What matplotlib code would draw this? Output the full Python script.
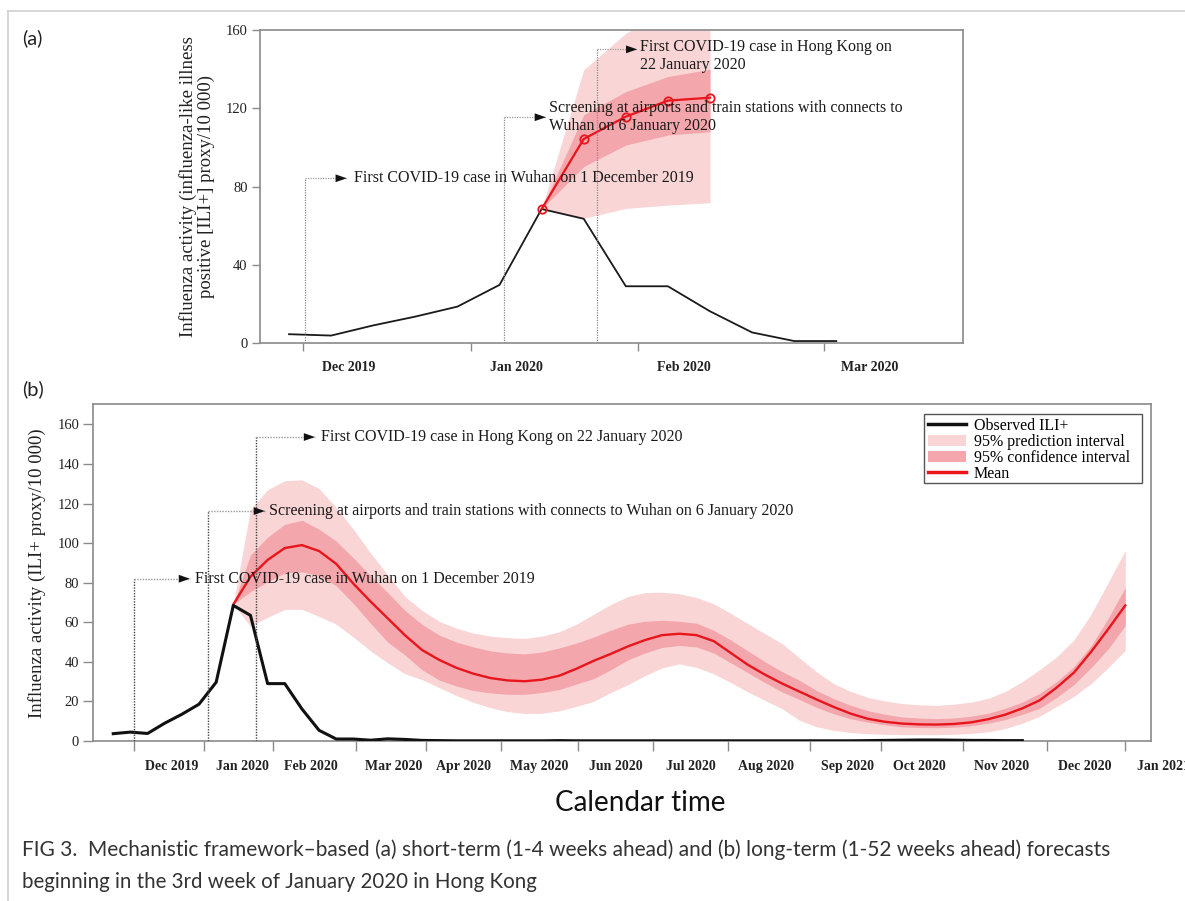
import matplotlib
matplotlib.use("Agg")
import matplotlib.pyplot as plt
import numpy as np
from matplotlib.lines import Line2D
from matplotlib.patches import Patch, Rectangle
from matplotlib.transforms import ScaledTranslation

SERIF = ["Liberation Serif", "DejaVu Serif"]
SANS = ["Lato", "DejaVu Sans"]

# ---------------- data (x = week index) ----------------
obs_weeks = list(range(0, 54))
observed = [3.7, 4.5, 3.8, 9.0, 13.5, 18.6, 29.7, 68.5, 63.5, 29.0,
            29.0, 16.2, 5.4, 1.0, 1.0, 0.4, 1.1, 0.8, 0.3, 0.2,
            0.1, 0.1, 0.1, 0.1, 0.1, 0.1, 0.2, 0.1, 0.1, 0.1,
            0.1, 0.1, 0.1, 0.1, 0.1, 0.1, 0.1, 0.1, 0.1, 0.1,
            0.1, 0.1, 0.1, 0.1, 0.2, 0.3, 0.4, 0.5, 0.5, 0.4,
            0.3, 0.3, 0.2, 0.2]

# panel (a): short-term forecast, weeks 7..11
short_weeks = [7, 8, 9, 10, 11]
short_mean = [68.5, 104.3, 115.7, 123.9, 125.4]
short_ci_lo = [68.5, 90.2, 101.2, 106.3, 108.0]
short_ci_hi = [68.5, 116.6, 128.5, 136.2, 139.9]
short_pi_lo = [68.5, 63.7, 68.8, 70.5, 71.7]
short_pi_hi = [68.5, 139.6, 158.3, 170.0, 175.0]

# panel (b): long-term forecast, weeks 7..59
long_weeks = list(range(7, 60))
long_mean = [69.0, 83.0, 91.5, 97.5, 99.0, 96.0, 89.5, 79.5, 70.5, 62.0,
             53.5, 46.0, 41.0, 37.0, 34.0, 31.8, 30.6, 30.2, 31.0, 33.0,
             36.5, 40.5, 44.0, 47.8, 51.0, 53.5, 54.2, 53.5, 50.5, 44.5,
             38.5, 33.5, 29.0, 25.0, 21.0, 17.2, 13.8, 11.2, 9.7, 8.8,
             8.4, 8.3, 8.6, 9.4, 11.0, 13.3, 16.5, 20.5, 27.0, 34.5,
             45.0, 56.5, 68.5]
long_ci_hi = [69.0, 94.0, 103.0, 109.5, 111.5, 107.0, 101.0, 92.5, 83.5, 75.0,
              66.0, 59.0, 53.5, 50.0, 47.5, 45.5, 44.5, 44.0, 45.0, 47.0,
              49.5, 52.5, 56.0, 59.0, 60.5, 61.0, 60.5, 59.5, 56.0, 51.0,
              45.5, 40.0, 35.0, 30.7, 25.5, 21.4, 18.0, 15.3, 13.5, 12.1,
              11.6, 11.3, 11.6, 12.5, 14.0, 16.5, 19.7, 24.0, 30.0, 37.5,
              48.0, 62.0, 77.5]
long_ci_lo = [69.0, 75.5, 80.5, 85.0, 85.4, 83.5, 78.5, 69.5, 59.5, 50.0,
              43.5, 36.0, 30.8, 27.8, 25.5, 24.3, 23.6, 23.6, 24.5, 26.0,
              28.8, 31.5, 36.0, 41.0, 44.5, 47.3, 48.3, 47.5, 44.5, 39.5,
              34.5, 29.5, 24.8, 21.0, 17.0, 13.8, 11.2, 9.5, 8.2, 7.1,
              6.8, 6.7, 7.0, 7.7, 9.0, 10.8, 13.5, 16.5, 22.0, 28.5,
              37.0, 46.5, 58.4]
long_pi_hi = [69.0, 117.0, 127.0, 131.5, 132.0, 127.5, 118.0, 107.0, 95.0, 84.0,
              73.0, 66.0, 60.5, 57.0, 54.5, 53.0, 52.2, 51.8, 53.0, 55.2,
              59.0, 64.0, 69.0, 73.0, 75.0, 75.2, 74.4, 72.5, 69.4, 64.5,
              59.3, 54.2, 49.2, 42.0, 35.0, 29.0, 25.0, 22.0, 20.2, 18.9,
              18.3, 18.0, 18.6, 19.6, 21.5, 25.0, 30.0, 36.0, 42.5, 51.0,
              64.0, 80.0, 96.3]
long_pi_lo = [69.0, 58.0, 62.5, 66.5, 66.5, 63.0, 59.0, 52.5, 45.5, 39.5,
              34.0, 31.0, 27.0, 23.0, 19.5, 16.8, 14.8, 13.9, 14.0, 15.2,
              17.5, 20.0, 24.5, 28.5, 33.0, 37.0, 39.0, 37.2, 34.0, 29.5,
              24.8, 20.5, 16.3, 10.5, 7.2, 5.4, 4.3, 3.7, 3.4, 3.2,
              3.2, 3.2, 3.4, 3.8, 4.6, 6.3, 9.0, 12.5, 17.5, 22.5,
              29.0, 37.0, 45.8]

month_labels_a = ["Dec 2019", "Jan 2020", "Feb 2020", "Mar 2020"]
month_labels_b = ["Dec 2019", "Jan 2020", "Feb 2020", "Mar 2020", "Apr 2020",
                  "May 2020", "Jun 2020", "Jul 2020", "Aug 2020", "Sep 2020",
                  "Oct 2020", "Nov 2020", "Dec 2020", "Jan 2021"]

event_texts_a = ["First COVID-19 case in Wuhan on 1 December 2019",
                 "Screening at airports and train stations with connects to\nWuhan on 6 January 2020",
                 "First COVID-19 case in Hong Kong on\n22 January 2020"]
event_texts_b = ["First COVID-19 case in Wuhan on 1 December 2019",
                 "Screening at airports and train stations with connects to Wuhan on 6 January 2020",
                 "First COVID-19 case in Hong Kong on 22 January 2020"]
legend_labels = ["Observed ILI+", "95% prediction interval",
                 "95% confidence interval", "Mean"]

# ---------------- layout / style ----------------
W, H = 1185, 901
LIGHT = "#f9d5d6"
DARK = "#f3a6ab"
RED = "#e8151d"
SPINE = "#8a8a8a"

# tick positions (week units) and label offsets (px)
ticks_a = [1.33, 5.32, 9.29, 13.71]
ticks_b = [1.21, 5.29, 9.31, 14.15, 18.23, 22.6, 27.1, 31.47, 35.84,
           40.6, 44.77, 49.55, 54.45, 59.0]
# annotation geometry: (x_vertical, y_level, x_tip, x_text, y_text)
ann_a = [(1.39, 84.2, 2.37, 2.54, 84.2),
         (6.11, 115.4, 7.10, 7.18, 115.6),
         (8.31, 150.1, 9.27, 9.34, 146.6)]
ann_b = [(1.22, 82.0, 4.47, 4.76, 82.0),
         (5.54, 116.2, 8.84, 9.10, 116.2),
         (8.32, 153.6, 11.76, 12.10, 153.6)]

fig = plt.figure(figsize=(W / 100, H / 100), dpi=100)


def fax(l, t, r, b):
    return [l / W, 1 - b / H, (r - l) / W, (b - t) / H]


axa = fig.add_axes(fax(260, 30, 963, 343))
axb = fig.add_axes(fax(93, 404, 1151, 741))


def style_axes(ax, ticks, labels, xlab_dx, ylen):
    for s in ax.spines.values():
        s.set_color(SPINE)
        s.set_linewidth(1.2)
    ax.set_xticks(ticks)
    ax.set_xticklabels(labels, fontfamily=SERIF, fontweight="bold",
                       fontsize=10, color="#222222")
    ax.tick_params(axis="x", direction="out", length=ylen, width=1.0,
                   color=SPINE, pad=7)
    ax.tick_params(axis="y", direction="out", length=ylen, width=1.0,
                   color=SPINE, pad=3, labelsize=10.5, labelcolor="#222222")
    for lab in ax.get_yticklabels():
        lab.set_fontfamily(SERIF)
    off = ScaledTranslation(xlab_dx / 100.0, 0, fig.dpi_scale_trans)
    for lab in ax.get_xticklabels():
        lab.set_transform(lab.get_transform() + off)


def events(ax, geo, texts, vcolor, lw):
    for (xv, yl, xt, xtx, ytx), txt in zip(geo, texts):
        ax.plot([xv, xv], [0, yl], ls=(0, (1, 1)), color=vcolor, lw=lw, zorder=6)
        ax.plot([xv, xt], [yl, yl], ls=(0, (1, 1)), color="#9a9a9a", lw=lw, zorder=6)
        ax.annotate("", xy=(xt, yl), xytext=(xt - 0.3, yl),
                    arrowprops=dict(arrowstyle="-|>,head_length=0.8,head_width=0.28",
                                    color="#111111", lw=0.01, shrinkA=0, shrinkB=0),
                    zorder=7)
        ax.text(xtx, ytx, txt, ha="left", va="center", fontsize=11.5,
                fontfamily=SERIF, color="#1a1a1a", zorder=8, linespacing=1.12)


# ---------------- panel (a) ----------------
axa.fill_between(short_weeks, short_pi_lo, short_pi_hi, color=LIGHT, lw=0, zorder=1)
axa.fill_between(short_weeks, short_ci_lo, short_ci_hi, color=DARK, lw=0, zorder=2)
axa.plot(obs_weeks[1:15], observed[1:15], color="#1a1a1a", lw=1.3, zorder=3)
axa.plot(short_weeks, short_mean, color=RED, lw=1.6, marker="o", ms=6,
         mfc="none", mec=RED, mew=1.3, zorder=4)
axa.set_xlim(0.31, 17.01)
axa.set_ylim(0, 160)
axa.set_yticks([0, 40, 80, 120, 160])
style_axes(axa, ticks_a, month_labels_a, 46, 6)
events(axa, ann_a, event_texts_a, "#8a8a8a", 0.9)

# ---------------- panel (b) ----------------
axb.fill_between(long_weeks, long_pi_lo, long_pi_hi, color=LIGHT, lw=0, zorder=1)
axb.fill_between(long_weeks, long_ci_lo, long_ci_hi, color=DARK, lw=0, zorder=2)
axb.plot(long_weeks, long_mean, color=RED, lw=1.7, zorder=3)
axb.plot(obs_weeks, observed, color="#111111", lw=2.2, zorder=4)
axb.set_xlim(-1.18, 60.5)
axb.set_ylim(0, 170.3)
axb.set_yticks(np.arange(0, 161, 20))
style_axes(axb, ticks_b, month_labels_b, 38, 7)
events(axb, ann_b, event_texts_b, "#444444", 1.0)

handles = [Line2D([], [], color="#111111", lw=2.5),
           Patch(facecolor=LIGHT, edgecolor="none"),
           Patch(facecolor=DARK, edgecolor="none"),
           Line2D([], [], color=RED, lw=2.5)]
box_l, box_t, box_r, box_b = 924, 414, 1142, 483
ax_l, ax_t, ax_r, ax_b = 93, 404, 1151, 741
bx0 = (box_l - ax_l) / (ax_r - ax_l)
by1 = (ax_b - box_t) / (ax_b - ax_t)
leg = axb.legend(handles, legend_labels, loc="upper left",
                 bbox_to_anchor=(bx0, by1), borderaxespad=0,
                 prop={"family": SERIF, "size": 11.5}, frameon=False,
                 handlelength=2.4, handleheight=0.75, handletextpad=0.45,
                 labelspacing=0.0, borderpad=0.25)
leg.set_zorder(10)
axb.add_patch(Rectangle((bx0, (ax_b - box_b) / (ax_b - ax_t)),
                        (box_r - box_l) / (ax_r - ax_l),
                        (box_b - box_t) / (ax_b - ax_t),
                        transform=axb.transAxes, fill=True, facecolor="white",
                        edgecolor="#555555", lw=1.0, zorder=9))

# ---------------- figure text ----------------
fig.text(197 / W, 1 - 187 / H,
         "Influenza activity (influenza-like illness\npositive [ILI+] proxy/10 000)",
         rotation=90, ha="center", va="center", fontsize=13.5, fontfamily=SERIF,
         color="#222222", linespacing=1.1)
fig.text(37 / W, 1 - 573 / H, "Influenza activity (ILI+ proxy/10 000)",
         rotation=90, ha="center", va="center", fontsize=13.5, fontfamily=SERIF,
         color="#222222")
fig.text(22 / W, 1 - 38 / H, "(a)", ha="left", va="center", fontsize=14.5,
         fontfamily=SANS, color="#222222")
fig.text(22 / W, 1 - 389 / H, "(b)", ha="left", va="center", fontsize=14.5,
         fontfamily=SANS, color="#222222")
fig.text(640 / W, 1 - 803 / H, "Calendar time", ha="center", va="center",
         fontsize=20, fontfamily=SANS, color="#111111")
fig.text(22 / W, 1 - 850 / H,
         "FIG 3.  Mechanistic framework\u2013based (a) short-term (1-4 weeks ahead) and (b) long-term (1-52 weeks ahead) forecasts",
         ha="left", va="center", fontsize=15, fontfamily=SANS, color="#333333")
fig.text(22 / W, 1 - 882 / H,
         "beginning in the 3rd week of January 2020 in Hong Kong",
         ha="left", va="center", fontsize=14.8, fontfamily=SANS, color="#333333")

# outer light frame
fig.add_artist(Line2D([8 / W, 8 / W], [0, 1 - 11 / H], transform=fig.transFigure,
                      color="#cfcfcf", lw=1.2))
fig.add_artist(Line2D([8 / W, 1], [1 - 11 / H, 1 - 11 / H], transform=fig.transFigure,
                      color="#cfcfcf", lw=1.2))

fig.savefig("out.png", dpi=100)
